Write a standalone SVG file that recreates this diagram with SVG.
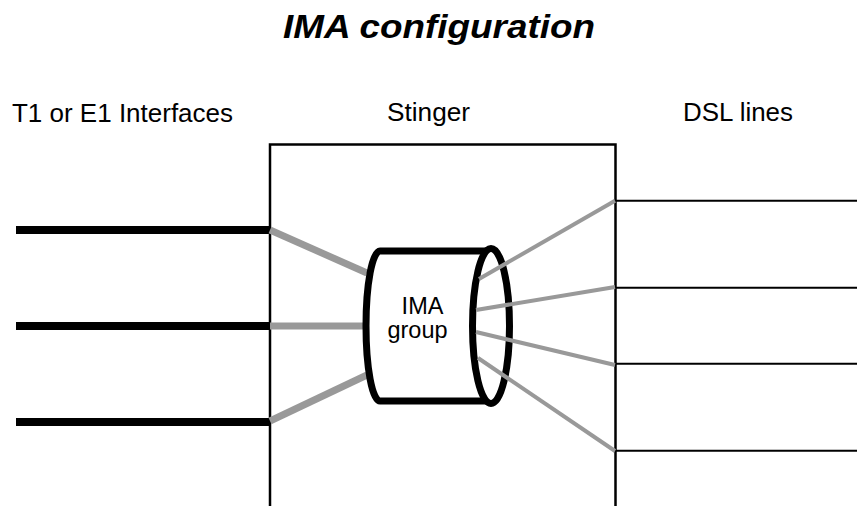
<svg xmlns="http://www.w3.org/2000/svg" width="857" height="506" viewBox="0 0 857 506">
<style>
text{font-family:"Liberation Sans",Arial,Helvetica,sans-serif;fill:#000}
.lbl{font-size:25.5px}
.inner{font-size:23.5px}
.t1{stroke:#000;stroke-width:8;fill:none}
.dsl{stroke:#000;stroke-width:2;fill:none}
.gw{stroke:#999;stroke-width:7;fill:none}
.gn{stroke:#999;stroke-width:4;fill:none}
</style>
<rect width="857" height="506" fill="#fff"/>
<text x="283" y="37.5" font-size="34" font-weight="bold" font-style="italic" textLength="312" lengthAdjust="spacingAndGlyphs">IMA configuration</text>
<g id="label-t1"><text class="lbl" x="12" y="122" textLength="221" lengthAdjust="spacingAndGlyphs">T1 or E1 Interfaces</text></g>
<g id="label-stinger"><text class="lbl" x="387" y="120.5" textLength="83" lengthAdjust="spacingAndGlyphs">Stinger</text></g>
<g id="label-dsl"><text class="lbl" x="683" y="121" textLength="110" lengthAdjust="spacingAndGlyphs">DSL lines</text></g>
<g id="stinger">
<path d="M270,506 V144.5 H615.5 V506" fill="none" stroke="#000" stroke-width="2.5"/>
</g>
<g id="t1-lines">
<line class="t1" x1="16" y1="230" x2="270" y2="230"/>
<line class="t1" x1="16" y1="326" x2="270" y2="326"/>
<line class="t1" x1="16" y1="422" x2="270" y2="422"/>
</g>
<g id="dsl-lines">
<line class="dsl" x1="615" y1="200.7" x2="857" y2="200.7"/>
<line class="dsl" x1="615" y1="287.7" x2="857" y2="287.7"/>
<line class="dsl" x1="615" y1="363.7" x2="857" y2="363.7"/>
<line class="dsl" x1="615" y1="450.7" x2="857" y2="450.7"/>
</g>
<g id="connectors-left">
<line class="gw" x1="270" y1="230" x2="367" y2="273"/>
<line class="gw" x1="270" y1="326" x2="366" y2="326"/>
<line class="gw" x1="270" y1="421" x2="367" y2="375"/>
</g>
<g id="ima-group">
<path d="M380,251 H491 V401 H380 A14,75 0 0 1 380,251 Z" fill="#fff" stroke="none"/>
<path d="M380,251 H491 M380,401 H491" stroke="#000" stroke-width="7" fill="none"/>
<path d="M380,251 A14,75 0 0 0 380,401" stroke="#000" stroke-width="7" fill="none"/>
<ellipse cx="491" cy="326" rx="18.5" ry="77.5" fill="#fff" stroke="#000" stroke-width="7"/>
<text class="inner" x="422.5" y="313.5" text-anchor="middle">IMA</text>
<text class="inner" x="417.5" y="338" text-anchor="middle">group</text>
</g>
<g id="connectors-right">
<line class="gn" x1="479" y1="279" x2="615" y2="200.7"/>
<line class="gn" x1="476" y1="310" x2="615" y2="287"/>
<line class="gn" x1="476" y1="332" x2="615" y2="365"/>
<line class="gn" x1="478" y1="358" x2="615" y2="451"/>
</g>
</svg>
